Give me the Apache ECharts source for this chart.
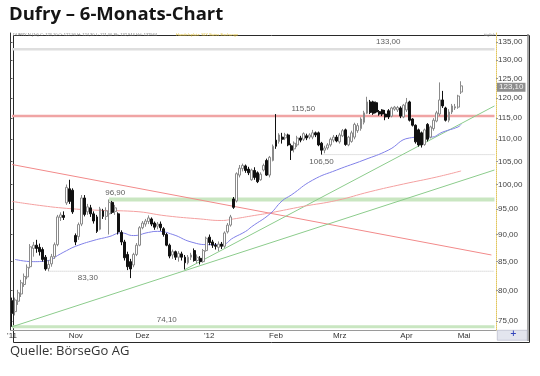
<!DOCTYPE html>
<html>
<head>
<meta charset="utf-8">
<title>Dufry – 6-Monats-Chart</title>
<script src="https://cdn.jsdelivr.net/npm/echarts@6/dist/echarts.min.js"></script>
<style>
  html, body { margin: 0; padding: 0; background: #fff; }
  #chart { width: 540px; height: 376px; }
</style>
</head>
<body>
<div id="chart"></div>
<script>
// Achse / Beschriftung
var yTicks = [75, 80, 85, 90, 95, 100, 105, 110, 115, 120, 125, 130, 135];
var monthLabels = ["'11", 'Nov', 'Dez', "'12", 'Feb', 'Mrz', 'Apr', 'Mai'];
var closedDays = ['2012-04-06', '2012-04-09'];
var dayCount = 160;

// Tageskerzen [open, close, low, high]
var candles = [
  [78.3, 76.2, 74.1, 78.8], [76.5, 78.4, 75.9, 78.8], [78.2, 79.6, 77.6, 80.1], [79.4, 81.3, 78.9, 81.8],
  [81.0, 82.4, 80.6, 82.9], [82.3, 84.0, 81.9, 84.5], [84.1, 87.7, 83.8, 88.2], [87.4, 88.0, 85.9, 88.6],
  [88.0, 87.4, 86.6, 89.0], [87.6, 86.8, 86.1, 88.3], [87.2, 85.4, 85.0, 87.6], [85.8, 83.7, 83.4, 86.2],
  [83.8, 84.5, 83.3, 85.3], [84.6, 85.9, 84.1, 86.4], [85.9, 88.1, 85.5, 88.5], [88.1, 93.4, 87.8, 93.8],
  [93.3, 93.8, 92.6, 94.3], [93.7, 93.3, 92.8, 94.5], [96.2, 99.4, 95.8, 100.0], [99.1, 96.5, 96.0, 101.0],
  [98.8, 94.4, 94.0, 99.2], [89.8, 88.6, 88.0, 90.2], [89.6, 91.9, 89.0, 92.3], [92.0, 97.2, 91.6, 97.8],
  [97.2, 93.9, 93.5, 97.8], [94.4, 95.4, 93.8, 96.0], [95.2, 94.0, 93.4, 95.8], [94.0, 92.6, 92.1, 94.5],
  [93.4, 90.6, 90.3, 93.8], [91.0, 95.0, 90.8, 95.4], [94.6, 93.5, 93.0, 95.0], [93.5, 94.6, 92.8, 95.3],
  [94.0, 96.3, 90.0, 96.9], [96.3, 94.3, 94.0, 96.6], [94.5, 95.2, 93.8, 95.8], [94.0, 90.5, 90.0, 94.3],
  [90.4, 88.6, 88.0, 90.8], [88.6, 85.7, 85.2, 89.0], [86.3, 84.1, 83.5, 86.8], [85.0, 83.7, 82.1, 85.5],
  [84.4, 86.3, 84.0, 86.6], [86.3, 88.0, 86.0, 88.4], [88.0, 91.3, 87.8, 91.6], [91.3, 92.2, 91.0, 92.6],
  [92.0, 92.6, 91.5, 93.0], [92.5, 93.2, 92.0, 93.7], [93.0, 92.0, 91.6, 93.3], [92.2, 91.4, 90.9, 92.5],
  [91.6, 92.0, 91.0, 92.4], [92.0, 91.3, 90.7, 92.5], [91.1, 90.0, 89.6, 91.4], [90.0, 88.0, 87.8, 90.3],
  [88.0, 86.0, 85.6, 88.3], [86.2, 86.8, 85.5, 87.2], [86.8, 85.8, 85.3, 87.0], [85.8, 86.5, 85.0, 86.9],
  [86.4, 85.8, 85.2, 86.8], [85.8, 84.8, 83.6, 86.2], [84.8, 85.8, 84.5, 86.2], [85.8, 86.2, 85.3, 86.6],
  [87.0, 85.2, 85.0, 87.4], [85.2, 85.8, 84.7, 86.3], [85.6, 85.0, 84.5, 86.0], [85.0, 87.0, 84.8, 87.3],
  [87.0, 89.3, 86.8, 89.6], [89.5, 88.5, 88.0, 90.0], [88.6, 88.0, 87.5, 89.0], [88.0, 87.8, 87.2, 88.4],
  [87.6, 88.2, 86.9, 88.7], [88.2, 87.8, 87.3, 88.6], [87.8, 90.3, 87.5, 90.6], [90.5, 91.8, 90.2, 92.2],
  [91.8, 93.4, 91.5, 93.8], [97.0, 95.3, 95.0, 97.4], [96.6, 102.3, 96.3, 102.6], [102.0, 103.5, 101.5, 104.2],
  [103.4, 104.1, 102.8, 104.5], [104.0, 103.0, 102.5, 104.3], [103.3, 102.5, 102.0, 103.8], [101.0, 103.1, 100.8, 103.4],
  [103.0, 101.5, 101.0, 103.7], [102.5, 100.6, 100.3, 102.8], [101.0, 102.2, 100.8, 102.6], [103.1, 104.1, 102.8, 104.5],
  [105.2, 102.0, 101.8, 105.6], [102.0, 105.9, 101.5, 106.2], [105.2, 108.4, 105.0, 108.8], [109.8, 108.4, 107.8, 116.0],
  [109.5, 111.0, 109.0, 111.4], [110.5, 110.0, 109.0, 111.5], [110.3, 111.0, 109.8, 111.5], [111.0, 108.7, 108.4, 111.3],
  [108.5, 107.5, 105.3, 109.0], [107.8, 109.1, 107.0, 109.5], [108.7, 110.3, 108.2, 110.8], [110.3, 109.8, 109.3, 110.8],
  [110.0, 111.3, 109.6, 111.6], [110.8, 110.3, 109.8, 111.3], [110.5, 111.0, 110.0, 111.4], [110.5, 111.5, 110.0, 112.2],
  [111.5, 111.0, 110.5, 111.8], [111.5, 108.7, 108.4, 111.8], [109.1, 107.5, 106.5, 109.4], [107.5, 108.0, 106.8, 108.5],
  [108.0, 108.7, 107.6, 109.1], [108.7, 110.0, 108.3, 110.4], [109.8, 110.5, 109.3, 111.0], [110.5, 109.6, 109.3, 111.0],
  [109.4, 111.0, 109.0, 111.5], [110.8, 112.0, 110.5, 112.4], [112.2, 108.8, 108.5, 112.5], [108.7, 110.5, 108.4, 110.8],
  [109.5, 111.5, 109.2, 112.0], [110.5, 113.5, 110.0, 113.9], [112.0, 113.2, 111.5, 113.8], [112.5, 114.8, 112.0, 115.2],
  [114.0, 116.3, 113.5, 116.8], [116.2, 119.0, 116.0, 120.3], [119.0, 116.4, 116.0, 119.5], [119.0, 116.2, 115.8, 119.3],
  [118.8, 116.5, 116.2, 119.1], [116.6, 116.0, 115.6, 117.0], [117.0, 116.0, 115.5, 117.2], [116.0, 115.3, 114.5, 117.0],
  [116.8, 115.3, 114.8, 117.2], [115.5, 117.5, 115.2, 117.8], [117.2, 117.7, 116.8, 118.0], [117.0, 117.6, 116.5, 118.0],
  [117.5, 115.5, 115.0, 117.9], [115.3, 118.2, 115.0, 118.5], [117.0, 118.8, 116.5, 120.0], [119.0, 114.5, 114.2, 119.3],
  [114.8, 113.3, 113.0, 115.0], [113.3, 109.4, 109.0, 113.5], [112.2, 108.7, 108.3, 112.5], [111.5, 108.7, 108.1, 111.8],
  [108.8, 112.2, 108.5, 112.5], [113.5, 110.0, 109.5, 113.8], [110.5, 112.9, 110.2, 113.2], [112.5, 114.5, 112.0, 115.0],
  [114.3, 116.3, 114.0, 116.8], [116.0, 119.5, 115.5, 124.0], [119.5, 118.0, 117.5, 121.8], [117.5, 114.5, 114.2, 117.8],
  [114.5, 116.5, 114.0, 117.2], [116.5, 118.0, 116.0, 118.5], [117.5, 117.8, 117.0, 118.5], [117.7, 120.5, 117.3, 120.8],
  [121.5, 123.1, 121.0, 124.3]
];

// gleitende Durchschnitte
var maBlueIdx = [1, 7, 12, 15, 18, 21, 27, 32, 36, 40, 45, 48, 53, 59, 65, 69, 73, 77, 79, 85, 89, 92, 99, 107, 116, 124, 131, 135, 138, 142, 147, 148];
var maBlueVal = [85.4, 85.0, 85.2, 86.1, 87.0, 87.8, 88.9, 89.6, 90.3, 89.8, 90.4, 90.6, 90.0, 88.6, 88.1, 88.1, 89.4, 90.6, 91.5, 94.0, 96.6, 97.8, 100.9, 103.1, 105.3, 107.5, 110.3, 110.5, 110.5, 111.7, 112.9, 113.5];
var maRedIdx = [0, 9, 18, 29, 40, 51, 62, 69, 73, 79, 85, 96, 107, 118, 129, 140, 148];
var maRedVal = [96.5, 95.7, 95.1, 94.7, 94.5, 93.6, 93.0, 92.7, 93.0, 93.6, 94.2, 95.5, 96.7, 98.5, 100.1, 101.6, 102.9];

// Trendlinien: Start-/Endindex und Kurs
var trendIdx = [[0, 158], [0, 159], [57, 159]];
var trendVal = [[104.3, 86.2], [74.1, 103.1], [83.6, 118.0]];
var trendColor = ['#f28a8a', '#8ccc8c', '#8ccc8c'];

// horizontale Marken
var levels = [133.0, 115.5, 106.5, 96.9, 83.3, 74.1];
var levelFrom = [0, 0, 102, 32, 12, 0];
var levelLabelIdx = [124, 96, 102, 34, 25, 51];

var dates = [];
var d = new Date(Date.UTC(2011, 9, 3));
while (dates.length < dayCount) {
  var s = d.toISOString().slice(0, 10);
  var wd = d.getUTCDay();
  if (wd !== 0 && wd !== 6 && closedDays.indexOf(s) < 0) dates.push(s);
  d.setUTCDate(d.getUTCDate() + 1);
}
var monthLabelByDate = {};
var k = 0;
dates.forEach(function (ds, i) {
  if (i === 0 || ds.slice(5, 7) !== dates[i - 1].slice(5, 7)) {
    monthLabelByDate[ds] = monthLabels[k++];
  }
});

function fmt (v) {
  return v.toFixed(2).replace('.', ',');
}
var ln = Math.log;
var yMin = ln(73.6);
var yMax = ln(137.6);
var lastClose = candles[candles.length - 1][1];
var labelFont = 'Liberation Sans';

var levelStyle = [
  {color: '#dedede', width: 2.5, type: 'solid'},
  {color: '#f0a4a4', width: 2.5, type: 'solid'},
  {color: '#c4c4c4', width: 1, type: 'dotted'},
  {color: '#c9e6c1', width: 4, type: 'solid'},
  {color: '#c4c4c4', width: 1, type: 'dotted'},
  {color: '#c9e6c1', width: 3, type: 'solid'}
];
var levelLabelPos = ['top', 'top', 'bottom', 'top', 'bottom', 'top'];

var series = [];
levels.forEach(function (v, i) {
  series.push({
    type: 'line',
    silent: true,
    symbol: 'none',
    lineStyle: levelStyle[i],
    data: [[levelFrom[i], ln(v)], [dayCount - 1, ln(v)]],
    z: 1
  });
});
trendIdx.forEach(function (ix, i) {
  series.push({
    type: 'line',
    silent: true,
    symbol: 'none',
    lineStyle: {color: trendColor[i], width: 1},
    data: [[ix[0], ln(trendVal[i][0])], [ix[1], ln(trendVal[i][1])]],
    z: 2
  });
});
series.push({
  type: 'line',
  silent: true,
  symbol: 'none',
  smooth: true,
  lineStyle: {color: '#f4a0a0', width: 1},
  data: maRedIdx.map(function (ix, i) { return [ix, ln(maRedVal[i])] }),
  z: 2
});
series.push({
  type: 'line',
  silent: true,
  symbol: 'none',
  smooth: true,
  lineStyle: {color: '#8080e8', width: 1},
  data: maBlueIdx.map(function (ix, i) { return [ix, ln(maBlueVal[i])] }),
  z: 2
});
series.push({
  type: 'candlestick',
  barWidth: 2.4,
  data: candles.map(function (c) { return c.map(ln) }),
  itemStyle: {
    color: '#ffffff',
    color0: '#111111',
    borderColor: '#8a8a8a',
    borderColor0: '#111111',
    borderWidth: 1
  },
  markLine: {
    silent: true,
    symbol: ['none', 'none'],
    lineStyle: {color: 'rgba(0,0,0,0)', width: 0},
    label: {
      show: true,
      position: 'end',
      distance: 1,
      formatter: fmt(lastClose),
      backgroundColor: '#8e8e8e',
      color: '#f4f4f4',
      fontSize: 8,
      fontFamily: labelFont,
      padding: [1, 2, 0, 2]
    },
    data: [{yAxis: ln(lastClose)}]
  },
  z: 3
});
series.push({
  type: 'scatter',
  silent: true,
  symbolSize: 0,
  data: levels.map(function (v, i) {
    return {value: [levelLabelIdx[i], ln(v)], label: {position: levelLabelPos[i]}};
  }),
  label: {
    show: true,
    fontSize: 8,
    fontFamily: labelFont,
    color: '#333',
    distance: 3,
    formatter: function (p) { return fmt(levels[p.dataIndex]) }
  },
  z: 4
});

var chart = echarts.init(document.getElementById('chart'));
chart.setOption({
  animation: false,
  grid: {left: 10.5, right: 44, top: 33, bottom: 46},
  xAxis: {
    type: 'category',
    data: dates,
    axisLine: {lineStyle: {color: '#9a9a9a'}},
    axisTick: {show: false},
    axisLabel: {
      interval: function (i, v) { return monthLabelByDate[v] !== undefined },
      formatter: function (v) { return monthLabelByDate[v] || '' },
      fontSize: 8,
      fontFamily: labelFont,
      color: '#333',
      margin: 2
    },
    splitLine: {show: false}
  },
  yAxis: [
    {
      type: 'value',
      position: 'right',
      min: yMin,
      max: yMax,
      axisLine: {show: true, lineStyle: {color: '#e2c55a', type: 'dotted'}},
      axisTick: {show: true, length: 2, customValues: yTicks.map(ln), lineStyle: {color: '#999'}},
      axisLabel: {
        customValues: yTicks.map(ln),
        formatter: function (v) { return fmt(Math.exp(v)) },
        fontSize: 8,
        fontFamily: labelFont,
        color: '#444',
        margin: 2
      },
      splitLine: {show: false}
    },
    {
      type: 'value',
      position: 'left',
      min: yMin,
      max: yMax,
      axisLine: {show: true, lineStyle: {color: '#333'}},
      axisTick: {show: true, inside: true, length: 2, customValues: yTicks.map(ln), lineStyle: {color: '#555'}},
      axisLabel: {show: false},
      splitLine: {show: false}
    }
  ],
  series: series,
  graphic: [
    {
      type: 'text', left: 9, top: 5,
      style: {text: 'Dufry – 6-Monats-Chart', font: 'bold 18.5px "Open Sans"', fill: '#151515'}
    },
    {
      type: 'rect', left: 11, top: 33, silent: true,
      shape: {width: 516, height: 307},
      style: {fill: 'none', stroke: '#2a2a2a', lineWidth: 1}
    },
    {
      type: 'line', silent: true,
      shape: {x1: 528, y1: 34, x2: 528, y2: 341},
      style: {stroke: '#8a8a8a', lineWidth: 1.5}
    },
    {
      type: 'rect', left: 497, top: 330, silent: true,
      shape: {width: 30, height: 10},
      style: {fill: '#e3e5ee', stroke: '#a0a4b8', lineWidth: 0.5}
    },
    {
      type: 'text', left: 510, top: 330,
      style: {text: '+', font: 'bold 8px "DejaVu Sans"', fill: '#3344bb'}
    },
    {
      type: 'text', left: 13, top: 33,
      style: {text: 'DUFRY N (1d) C: 123,10 O: 122,90 H: 124,30 L: 121,00 Sk: 132,944 Vol: 132944', font: '4px "Liberation Sans"', fill: '#777'}
    },
    {
      type: 'text', left: 176, top: 33,
      style: {text: 'Handelsplatz: SIX Swiss Exchange', font: '4px "Liberation Sans"', fill: '#e0c040'}
    },
    {
      type: 'text', left: 484, top: 33,
      style: {text: 'täglich', font: '4px "Liberation Sans"', fill: '#888'}
    },
    {
      type: 'text', left: 10, top: 345,
      style: {text: 'Quelle: BörseGo AG', font: '13px "Open Sans"', fill: '#333'}
    }
  ]
});
</script>
</body>
</html>
